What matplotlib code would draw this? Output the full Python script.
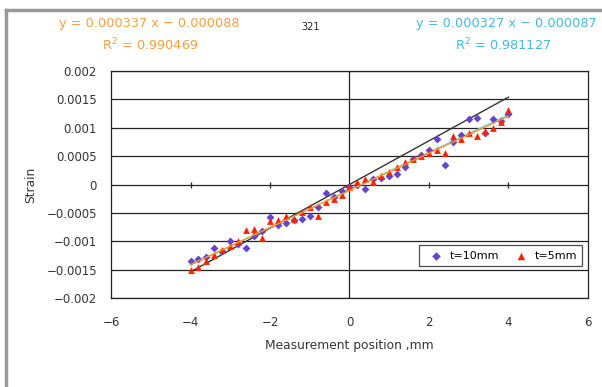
import numpy as np
import matplotlib
matplotlib.use('Agg')
import matplotlib.pyplot as plt
from matplotlib.lines import Line2D

# measurement positions, mm
pos = [-4.0, -3.8, -3.6, -3.4, -3.2, -3.0, -2.8, -2.6, -2.4, -2.2, -2.0,
       -1.8, -1.6, -1.4, -1.2, -1.0, -0.8, -0.6, -0.4, -0.2, 0.0,
       0.2, 0.4, 0.6, 0.8, 1.0, 1.2, 1.4, 1.6, 1.8, 2.0,
       2.2, 2.4, 2.6, 2.8, 3.0, 3.2, 3.4, 3.6, 3.8, 4.0]

strain_t10 = [-0.00135, -0.00132, -0.00128, -0.00112, -0.00118, -0.00100, -0.00105,
              -0.00112, -0.00090, -0.00082, -0.00057, -0.00072, -0.00068, -0.00062,
              -0.00060, -0.00055, -0.00040, -0.00015, -0.00022, -0.00012, -0.00005,
              0.00000, -0.00008, 0.00010, 0.00012, 0.00015, 0.00018, 0.00030,
              0.00045, 0.00052, 0.00060, 0.00080, 0.00034, 0.00075, 0.00088,
              0.00115, 0.00117, 0.00090, 0.00115, 0.00112, 0.00125]

strain_t5 = [-0.00150, -0.00145, -0.00135, -0.00125, -0.00115, -0.00108, -0.00100,
             -0.00080, -0.00078, -0.00095, -0.00065, -0.00062, -0.00055, -0.00060,
             -0.00048, -0.00040, -0.00055, -0.00030, -0.00025, -0.00018, -0.00005,
             0.00005, 0.00010, 0.00005, 0.00015, 0.00022, 0.00030, 0.00040,
             0.00045, 0.00050, 0.00055, 0.00060, 0.00055, 0.00085, 0.00080,
             0.00090, 0.00085, 0.00095, 0.00100, 0.00110, 0.00132]

theory_x = [-4, 4]
theory_y = [-0.00154, 0.00154]

eq_t5 = ['y = 0.000337 x \u2212 0.000088', 'R$^2$ = 0.990469']
eq_t10 = ['y = 0.000327 x \u2212 0.000087', 'R$^2$ = 0.981127']
title = '321'

xticks = [-6, -4, -2, 0, 2, 4, 6]
yticks = [-0.002, -0.0015, -0.001, -0.0005, 0, 0.0005, 0.001, 0.0015, 0.002]
ytick_labels = ['\u22120.002', '\u22120.0015', '\u22120.001', '\u22120.0005', '0',
                '0.0005', '0.001', '0.0015', '0.002']

plt.rcParams['font.family'] = ['DejaVu Sans']

fig = plt.figure(figsize=(6.02, 3.87), dpi=100)
ax = fig.add_axes([0.1844, 0.230, 0.7923, 0.5865])

# outer chart frame (top and left edges visible)
fig.add_artist(Line2D([0.010, 0.010], [0.0, 0.974], transform=fig.transFigure,
                      color='#999999', lw=2.5))
fig.add_artist(Line2D([0.010, 1.0], [0.974, 0.974], transform=fig.transFigure,
                      color='#999999', lw=2.5))

ax.set_xlim(-6, 6)
ax.set_ylim(-0.002, 0.002)
for yt in yticks:
    ax.axhline(yt, color='#222222', lw=0.9, zorder=1)
ax.axvline(0, color='#222222', lw=0.9, zorder=1)
for xt in xticks[1:-1]:
    if xt != 0:
        ax.plot([xt], [0], marker='|', color='#222222', ms=4, mew=0.9, zorder=1)

ax.plot(theory_x, theory_y, color='#333333', lw=1.0, zorder=2)

xs = np.array(pos)
p5 = np.polyfit(xs, strain_t5, 1)
p10 = np.polyfit(xs, strain_t10, 1)
xl = np.array([xs.min(), xs.max()])
ax.plot(xl, np.polyval(p10, xl), color='#66ccee', lw=1.0, zorder=2)

ax.scatter(pos, strain_t10, marker='D', s=16, color='#6644cc', zorder=3, label='t=10mm',
           linewidths=0)
ax.scatter(pos, strain_t5, marker='^', s=24, color='#ff2200', zorder=4, label='t=5mm',
           linewidths=0)
ax.plot(xl, np.polyval(p5, xl), color='#ff9922', lw=1.0, zorder=5)

ax.set_xticks(xticks)
ax.set_xticklabels(['\u22126', '\u22124', '\u22122', '0', '2', '4', '6'])
ax.set_yticks(yticks)
ax.set_yticklabels(ytick_labels)
ax.tick_params(length=0, labelsize=8.5, colors='#333333')
ax.tick_params(axis='x', pad=13)
ax.tick_params(axis='y', pad=10)
for s in ax.spines.values():
    s.set_color('#222222')
    s.set_linewidth(0.9)

ax.set_xlabel('Measurement position ,mm', fontsize=8.8, color='#333333', labelpad=7)
ax.set_ylabel('Strain', fontsize=8.8, color='#333333', labelpad=7)

leg = ax.legend(loc='lower right', bbox_to_anchor=(1.0, 0.115), ncol=2, fontsize=8,
                frameon=True, fancybox=False, edgecolor='#222222', handletextpad=0.2,
                columnspacing=1.0, borderpad=0.5, markerscale=1.1)
leg.get_frame().set_linewidth(0.9)

fig.text(0.248, 0.940, eq_t5[0], color='#f5a040', fontsize=9.3, ha='center', va='center')
fig.text(0.249, 0.884, eq_t5[1], color='#f5a040', fontsize=9.3, ha='center', va='center')
fig.text(0.841, 0.940, eq_t10[0], color='#44bbdd', fontsize=9.3, ha='center', va='center')
fig.text(0.836, 0.884, eq_t10[1], color='#44bbdd', fontsize=9.3, ha='center', va='center')
fig.text(0.516, 0.930, title, color='#222222', fontsize=7, ha='center', va='center')

fig.savefig('out.png', dpi=100)
